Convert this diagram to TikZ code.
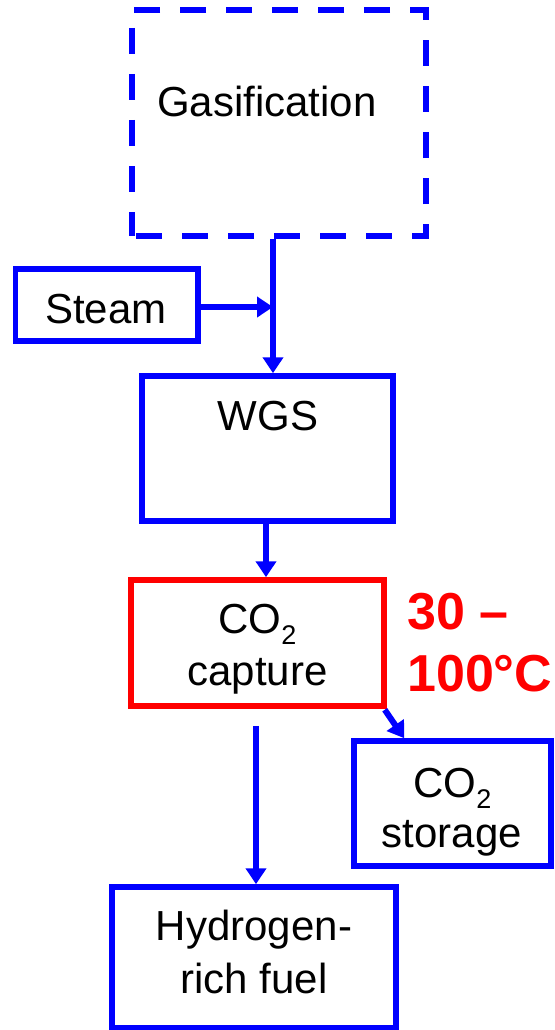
\documentclass[tikz,border=0pt]{standalone}
\usepackage{fontspec}
\setmainfont{Liberation Sans}
\usetikzlibrary{arrows.meta}
\definecolor{pblue}{RGB}{0,0,255}
\definecolor{pred}{RGB}{255,0,0}
\newcommand{\subtwo}{\raisebox{-0.28em}{\fontsize{27}{27}\selectfont 2}}
\begin{document}
\begin{tikzpicture}[x=1pt,y=-1pt,
  box/.style={draw=pblue, line width=5.5pt, rectangle, inner sep=0pt},
  redbox/.style={draw=pred, line width=5.5pt, rectangle, inner sep=0pt},
  dashbox/.style={draw=pblue, line width=5.5pt, rectangle, inner sep=0pt, dash pattern=on 26pt off 20pt, dash phase=-4pt},
  txt/.style={font=\fontsize{42}{50}\selectfont, inner sep=0pt, anchor=base},
  redtxt/.style={font=\fontsize{52}{60}\selectfont\bfseries, text=pred, inner sep=0pt, anchor=base west},
  arr/.style={draw=pblue, line width=6pt, -{Triangle[width=20pt,length=16pt]}}
]
\useasboundingbox (0,0) rectangle (554,1030);
% boxes (centre line coordinates)
\node[dashbox, minimum width=294pt, minimum height=226pt] (gas) at (279,123) {};
\node[box, minimum width=182.5pt, minimum height=72pt] (steam) at (106.75,305) {};
\node[box, minimum width=251pt, minimum height=145pt] (wgs) at (267.5,448.5) {};
\node[redbox, minimum width=253pt, minimum height=126pt] (cap) at (257.5,643) {};
\node[box, minimum width=197pt, minimum height=125pt] (stor) at (452.5,803.5) {};
\node[box, minimum width=284pt, minimum height=141pt] (hyd) at (254,957.5) {};
% texts
\node[txt] (gastxt) at (267,117) {Gasification};
\node[txt] (steamtxt) at (106,323) {Steam};
\node[txt] (wgstxt) at (268,430) {WGS};
\node[txt] (captxt1) at (257.5,633) {CO\subtwo};
\node[txt] (captxt2) at (257.5,685.5) {capture};
\node[txt] (stortxt1) at (452.5,797) {CO\subtwo};
\node[txt] (stortxt2) at (452,847) {storage};
\node[txt] (hydtxt1) at (254,940) {Hydrogen-};
\node[txt] (hydtxt2) at (254,993) {rich fuel};
\node[redtxt] (temp1) at (407,629) {30 –};
\node[redtxt] (temp2) at (407,691) {100°C};
% connectors
\coordinate (j) at (273,307);
\draw[arr] (gas.south -| j) -- (wgs.north -| j);
\draw[arr] (steam.east |- j) -- (j);
\draw[arr] (wgs.south -| 266,0) -- (cap.north -| 266,0);
\draw[arr, line cap=butt] ([xshift=-2pt,yshift=-1pt]cap.south east) -- ([xshift=53pt]stor.north west);
\draw[arr, shorten <=17pt] (cap.south -| 256,0) -- (hyd.north -| 256,0);
\end{tikzpicture}
\end{document}
